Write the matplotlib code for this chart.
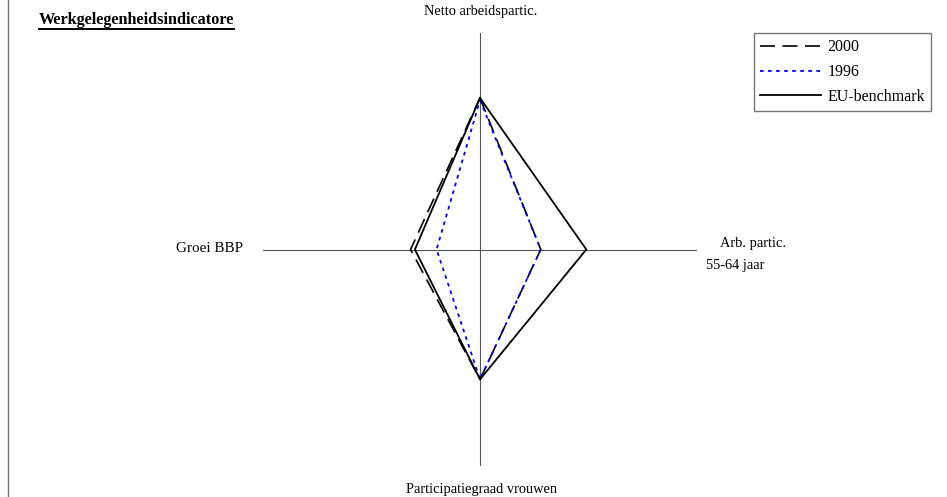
import matplotlib.pyplot as plt
from matplotlib.lines import Line2D

plt.rcParams['font.family'] = ['Liberation Serif', 'DejaVu Serif']
plt.rcParams['lines.scale_dashes'] = False

# axes order: top, right, bottom, left
axis_labels = ['Netto arbeidspartic.', 'Arb. partic.\n55-64 jaar',
               'Participatiegraad vrouwen', 'Groei BBP']
series_names = ['2000', '1996', 'EU-benchmark']
vals_2000 = [70, 28, 60, 32]
vals_1996 = [69, 28, 60, 20]
vals_eu = [70, 49, 60, 30]

styles = {
    '2000': dict(color='black', lw=1.2, dashes=(10.8, 5.4)),
    '1996': dict(color='#0000ee', lw=1.3, dashes=(2.6, 3.2)),
    'EU-benchmark': dict(color='black', lw=1.3),
}

W, H = 947, 497
fig = plt.figure(figsize=(W / 100, H / 100), dpi=100)

# radar area: arms run from x=263..697 px and y=33..466 px
ax = fig.add_axes([263 / W, (H - 466) / H, 434 / W, 433 / H])
ax.set_xlim(-100, 100)
ax.set_ylim(-100, 100)
ax.axis('off')

# cross of axis arms
ax.plot([-100, 100], [0, 0], color='#555555', lw=0.8, zorder=1)
ax.plot([0, 0], [-100, 100], color='#555555', lw=0.8, zorder=1)


def to_xy(v):
    t, r, b, l = v
    xs = [0, r, 0, -l, 0]
    ys = [t, 0, -b, 0, t]
    return xs, ys


handles = []
for name, v in zip(series_names, [vals_2000, vals_1996, vals_eu]):
    xs, ys = to_xy(v)
    ln, = ax.plot(xs, ys, label=name, zorder=3, **styles[name])
    handles.append(ln)

# axis labels
fs = 10.4
fig.text(481 / W, 1 - 12 / H, axis_labels[0], ha='center', va='center', fontsize=fs)
fig.text(753 / W, 1 - 243 / H, 'Arb. partic.', ha='center', va='center', fontsize=fs)
fig.text(706 / W, 1 - 265 / H, '55-64 jaar', ha='left', va='center', fontsize=fs)
fig.text(481 / W, 1 - 490 / H, axis_labels[2], ha='center', va='center', fontsize=fs)
fig.text(243 / W, 1 - 249 / H, axis_labels[3], ha='right', va='center', fontsize=10.9)

# title, underlined
t = fig.text(39 / W, 1 - 20 / H, 'Werkgelegenheidsindicatore', ha='left', va='center',
             fontsize=11.7, fontweight='bold')
fig.add_artist(Line2D([39 / W, 234 / W], [1 - 29 / H, 1 - 29 / H], color='black', lw=1.4))

# left border line
fig.add_artist(Line2D([8 / W, 8 / W], [0, 1], color='#777777', lw=1.0))

leg = fig.legend(handles=handles, loc='upper left', bbox_to_anchor=(754 / W, 1 - 33 / H),
                 frameon=True, fancybox=False, edgecolor='#555555', fontsize=11.5,
                 handlelength=3.8, handletextpad=0.4, labelspacing=0.55,
                 borderpad=0.4, borderaxespad=0)
leg.get_frame().set_linewidth(1.0)

fig.savefig('out.png', dpi=100)
